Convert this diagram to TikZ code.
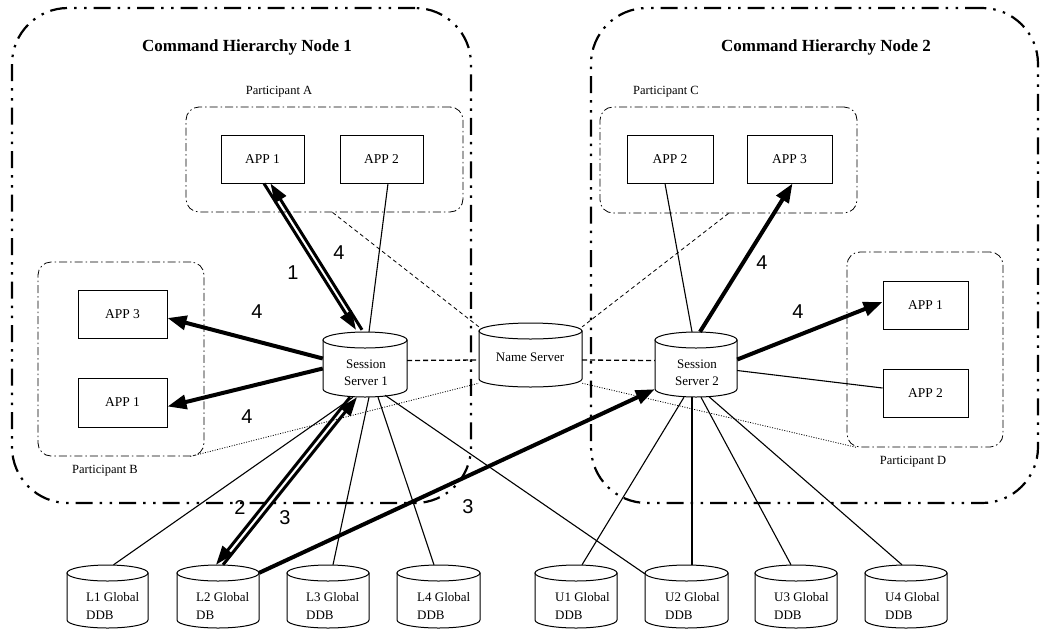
\documentclass[tikz,border=0pt]{standalone}
\usepackage{fontspec}
\setmainfont{Liberation Serif}
\newfontfamily\numfont{Liberation Sans}
\usetikzlibrary{arrows.meta}

\tikzset{
  hier/.style={draw, line width=2.2pt, rounded corners=56pt, inner sep=0pt,
    dash pattern=on 17pt off 7pt on 2.5pt off 7.5pt on 2.5pt off 7pt},
  part/.style={draw, line width=0.8pt, rounded corners=13pt, inner sep=0pt,
    dash pattern=on 8pt off 3pt on 1.5pt off 3pt},
  app/.style={draw, line width=1pt, inner sep=0pt, font=\fontsize{13.5}{15}\selectfont},
  txt/.style={font=\fontsize{12.5}{14}\selectfont, inner sep=0pt},
  dbtxt/.style={font=\fontsize{13}{18}\selectfont, inner sep=0pt, align=left, anchor=west},
  srvtxt/.style={font=\fontsize{13}{17}\selectfont, inner sep=0pt, align=center},
  title/.style={font=\fontsize{17}{20}\selectfont\bfseries, inner sep=0pt},
  numlbl/.style={font=\numfont\fontsize{20}{22}\selectfont, inner sep=0pt},
  link/.style={line width=1.1pt},
  flow/.style={line width=4pt, -{Triangle[length=19pt,width=14pt]}},
  pairflow/.style={line width=3pt, -{Triangle[length=19pt,width=13pt]}},
  nsdash/.style={line width=1.3pt, dash pattern=on 5pt off 3pt},
  thindash/.style={line width=0.8pt, dash pattern=on 4pt off 3pt},
  thindot/.style={line width=0.8pt, dash pattern=on 1pt off 1.5pt},
}

% cylinder: name, left, top, right, bottom
\newcommand\drum[5]{%
  \node[inner sep=0pt, minimum width={#4-#2}, minimum height={#5-#3}] (#1)
    at ({(#2+#4)/2},{(#3+#5)/2}) {};
  \draw[line width=1pt, fill=white] (#2,{#3+8}) -- (#2,{#5-8})
    arc[start angle=180, end angle=0, x radius={(#4-#2)/2}, y radius=8]
    -- (#4,{#3+8}) -- cycle;
  \draw[line width=1pt, fill=white] ({(#2+#4)/2},{#3+8})
    ellipse[x radius={(#4-#2)/2}, y radius=8];
}

\begin{document}
\begin{tikzpicture}[x=1pt, y=-1pt]
\useasboundingbox (0,0) rectangle (1041,630);

% command hierarchy nodes
\node[hier, minimum width=459pt, minimum height=495pt] (ch1) at (241.5,255.5) {};
\node[hier, minimum width=447pt, minimum height=495pt] (ch2) at (814.5,255.5) {};
\node[title] (ch1t) at (247,47) {Command Hierarchy Node 1};
\node[title] (ch2t) at (826,47) {Command Hierarchy Node 2};

% participants
\node[part, minimum width=277pt, minimum height=105pt] (pA) at (324.5,159.5) {};
\node[part, minimum width=166pt, minimum height=194pt] (pB) at (121,359) {};
\node[part, minimum width=257pt, minimum height=106pt] (pC) at (728.5,160) {};
\node[part, minimum width=156pt, minimum height=195pt] (pD) at (925,349.5) {};
\node[txt] (pAt) at (279,92) {Participant A};
\node[txt] (pBt) at (105,471) {Participant B};
\node[txt] (pCt) at (666,92) {Participant C};
\node[txt] (pDt) at (913,462) {Participant D};

% applications
\node[app, minimum width=83pt, minimum height=48pt] (a1) at (262.5,159) {APP 1};
\node[app, minimum width=83pt, minimum height=48pt] (a2) at (381.5,159) {APP 2};
\node[app, minimum width=89pt, minimum height=48pt] (b3) at (122.5,314) {APP 3};
\node[app, minimum width=89pt, minimum height=49pt] (b1) at (122.5,402.5) {APP 1};
\node[app, minimum width=86pt, minimum height=48pt] (c2) at (670,159) {APP 2};
\node[app, minimum width=85pt, minimum height=48pt] (c3) at (789.5,159) {APP 3};
\node[app, minimum width=85pt, minimum height=48pt] (d1) at (925.5,305) {APP 1};
\node[app, minimum width=85pt, minimum height=48pt] (d2) at (925.5,393) {APP 2};

% servers
\drum{ss1}{323}{332}{407}{397}
\drum{ns}{479}{323}{582}{387}
\drum{ss2}{655}{332}{737}{397}
\node[srvtxt] (ss1t) at (366,372.5) {Session\\Server 1};
\node[srvtxt] (nst) at (530,357) {Name Server};
\node[srvtxt] (ss2t) at (697,372.5) {Session\\Server 2};

% databases
\drum{l1}{67}{565}{148}{628}
\drum{l2}{177}{565}{259}{628}
\drum{l3}{287}{565}{369}{628}
\drum{l4}{397}{565}{480}{628}
\drum{u1}{535}{565}{617}{628}
\drum{u2}{645}{565}{728}{628}
\drum{u3}{755}{565}{837}{628}
\drum{u4}{865}{565}{947}{628}
\node[dbtxt] (l1t) at (86,606) {L1 Global\\DDB};
\node[dbtxt] (l2t) at (196,606) {L2 Global\\DB};
\node[dbtxt] (l3t) at (306,606) {L3 Global\\DDB};
\node[dbtxt] (l4t) at (417,606) {L4 Global\\DDB};
\node[dbtxt] (u1t) at (555,606) {U1 Global\\DDB};
\node[dbtxt] (u2t) at (665,606) {U2 Global\\DDB};
\node[dbtxt] (u3t) at (774,606) {U3 Global\\DDB};
\node[dbtxt] (u4t) at (885,606) {U4 Global\\DDB};

% name server relations
\draw[nsdash] ([yshift=4pt]ss1.east) -- ([yshift=-5pt]ns.west);
\draw[nsdash] ([yshift=-5pt]ns.east) -- ([yshift=4pt]ss2.west);
\draw[thindash] ([xshift=8pt]pA.south) -- ([yshift=-4pt]ns.north west);
\draw[thindash] (pC.south) -- ([yshift=-4pt]ns.north east);
\draw[thindot] ([xshift=-14pt]pB.south east) -- ([yshift=4pt]ns.south west);
\draw[thindot] ([yshift=4pt]ns.south east) -- ([xshift=10pt]pD.south west);

% session server 1 links
\draw[link] ([xshift=6.5pt]a2.south) -- ([xshift=4pt]ss1.north);
\draw[link] ([xshift=-12pt]ss1.south) -- ([xshift=6pt]l1.north);
\draw[link] ([xshift=4pt]ss1.south) -- ([xshift=5pt]l3.north);
\draw[link] ([xshift=13pt]ss1.south) -- ([xshift=-4.5pt]l4.north);
\draw[link] ([xshift=20pt,yshift=2pt]ss1.south) -- ([yshift=-9pt]u2.north west);

% session server 2 links
\draw[link] ([xshift=-4pt]ss2.north) -- ([xshift=-5pt]c2.south);
\draw[link] ([yshift=-6pt]ss2.east) -- ([yshift=5pt]d2.west);
\draw[link] ([xshift=-12pt]ss2.south) -- ([xshift=6pt]u1.north);
\draw[link] ([xshift=-4pt]ss2.south) -- ([xshift=5.5pt]u2.north);
\draw[link] ([xshift=5pt]ss2.south) -- ([xshift=-5pt]u3.north);
\draw[link] ([xshift=13pt,yshift=0.5pt]ss2.south) -- ([xshift=-4pt]u4.north);

% message flows
\draw[pairflow] ([xshift=1.5pt]a1.south) -- ([xshift=-9pt,yshift=2pt]ss1.north);
\draw[pairflow] ([xshift=-3pt,yshift=2pt]ss1.north) -- ([xshift=8pt]a1.south);
\draw[flow] ([yshift=6pt]ss1.west) -- ([yshift=-4pt]b3.east);
\draw[flow] ([yshift=-4pt]ss1.west) -- ([yshift=-4pt]b1.east);
\draw[pairflow] ([xshift=-15pt]ss1.south) -- ([xshift=-2pt]l2.north);
\draw[pairflow] ([xshift=5pt]l2.north) -- ([xshift=-8pt]ss1.south);
\draw[flow] ([yshift=-8pt]l2.north east) -- ([yshift=8pt]ss2.south west);
\draw[flow] ([xshift=4pt]ss2.north) -- ([xshift=3pt]c3.south);
\draw[flow] ([yshift=5pt]ss2.east) -- ([yshift=3pt]d1.west);

% step numbers
\node[numlbl] (n1) at (293,273) {1};
\node[numlbl] (n4a) at (339,253) {4};
\node[numlbl] (n4b) at (257,312) {4};
\node[numlbl] (n4c) at (247,417) {4};
\node[numlbl] (n2) at (240,508) {2};
\node[numlbl] (n3a) at (285,518) {3};
\node[numlbl] (n3b) at (468,507) {3};
\node[numlbl] (n4d) at (762,263) {4};
\node[numlbl] (n4e) at (798,312) {4};
\end{tikzpicture}
\end{document}
